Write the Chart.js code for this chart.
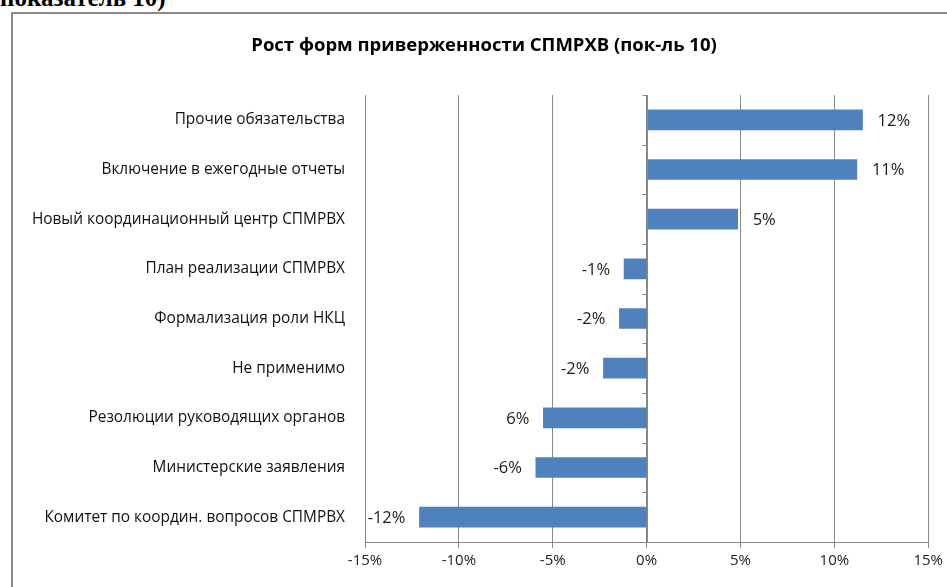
<!DOCTYPE html>
<html>
<head>
  <meta charset="UTF-8">
  <title>Рост форм приверженности СПМРХВ</title>
  <style>
    body { margin: 0; background: #fff; overflow: hidden; }
    #wrap { position: relative; width: 947px; height: 587px; }
    #above { position: absolute; left: 0; top: -16px; font: bold 25px "Liberation Serif", serif; color: #000; }
    #frame { position: absolute; left: 11px; top: 12px; width: 1000px; height: 700px; border: 2px solid #8a8a8a; box-sizing: border-box; }
    #chart { position: absolute; left: 0; top: 0; }
  </style>
</head>
<body>
<div id="wrap">
  <div id="above">показатель 10)</div>
  <div id="frame"></div>
  <canvas id="chart" width="947" height="587"></canvas>
</div>
<script src="https://cdn.jsdelivr.net/npm/chart.js"></script>
<script>
  const chartTitle = 'Рост форм приверженности СПМРХВ (пок-ль 10)';
  const categories = [
    'Прочие обязательства',
    'Включение в ежегодные отчеты',
    'Новый координационный центр СПМРВХ',
    'План реализации СПМРВХ',
    'Формализация роли НКЦ',
    'Не применимо',
    'Резолюции руководящих органов',
    'Министерские заявления',
    'Комитет по координ. вопросов СПМРВХ'
  ];
  const growth = [11.5, 11.2, 4.85, -1.2, -1.45, -2.3, -5.5, -5.9, -12.1];
  const valueLabels = ['12%', '11%', '5%', '-1%', '-2%', '-2%', '6%', '-6%', '-12%'];
  const xTicks = [-15, -10, -5, 0, 5, 10, 15];

  const gridGray = '#878787';
  const font = '"Open Sans", "Liberation Sans", sans-serif';

  // title, zero axis with tick marks, and value labels
  const extras = {
    id: 'extras',
    afterDraw(chart) {
      const ctx = chart.ctx;
      const area = chart.chartArea;
      const x = chart.scales.x;
      ctx.save();
      ctx.fillStyle = '#000';
      ctx.font = 'bold 18.5px ' + font;
      ctx.textAlign = 'center';
      ctx.textBaseline = 'middle';
      ctx.fillText(chartTitle, 484, 46);

      // vertical category axis at 0
      const x0 = Math.round(x.getPixelForValue(0)) + 0.5;
      ctx.strokeStyle = gridGray;
      ctx.lineWidth = 1;
      ctx.beginPath();
      ctx.moveTo(x0, area.top);
      ctx.lineTo(x0, area.bottom);
      const step = (area.bottom - area.top) / categories.length;
      for (let i = 0; i < categories.length; i++) {
        const yy = Math.round(area.top + i * step) + 0.5;
        ctx.moveTo(x0 - 5, yy);
        ctx.lineTo(x0, yy);
      }
      ctx.stroke();

      // value labels
      ctx.font = '16.5px ' + font;
      ctx.fillStyle = '#1a1a1a';
      const meta = chart.getDatasetMeta(0);
      meta.data.forEach((bar, i) => {
        const v = growth[i];
        ctx.textAlign = v >= 0 ? 'left' : 'right';
        ctx.fillText(valueLabels[i], bar.x + (v >= 0 ? 15 : -14), bar.y + 1);
      });
      ctx.restore();
    }
  };

  new Chart(document.getElementById('chart').getContext('2d'), {
    type: 'bar',
    data: {
      labels: categories,
      datasets: [{
        data: growth,
        backgroundColor: '#4f81bd',
        borderWidth: 0,
        barThickness: 20
      }]
    },
    options: {
      indexAxis: 'y',
      responsive: false,
      animation: false,
      layout: { padding: { top: 95, right: 18, left: 0, bottom: 0 } },
      plugins: { legend: { display: false }, tooltip: { enabled: false } },
      scales: {
        x: {
          min: -15, max: 15,
          afterBuildTicks: s => { s.ticks = xTicks.map(v => ({ value: v })); },
          afterFit: s => { s.height = 45; },
          grid: { color: gridGray, tickLength: 6, drawTicks: true },
          border: { color: gridGray },
          ticks: {
            padding: 4,
            color: '#222',
            font: { family: font, size: 15 },
            callback: v => v + '%'
          }
        },
        y: {
          afterFit: s => { s.width = 365; },
          grid: { display: false, drawTicks: false },
          border: { display: false },
          ticks: {
            padding: 20,
            color: '#111',
            font: { family: font, size: 15.4 }
          }
        }
      }
    },
    plugins: [extras]
  });
</script>
</body>
</html>
